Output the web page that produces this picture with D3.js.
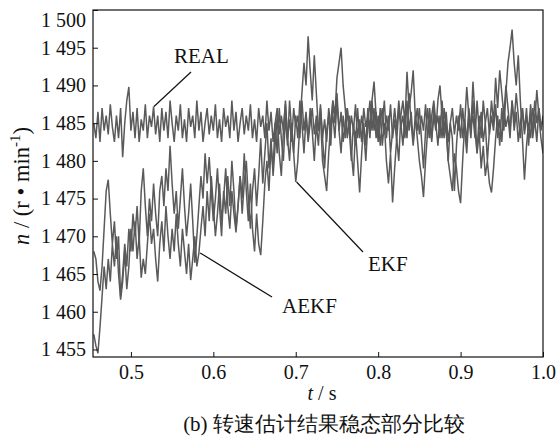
<!DOCTYPE html>
<html>
<head>
<meta charset="utf-8">
<script src="https://cdn.jsdelivr.net/npm/d3@7"></script>
<style>
  body { margin: 0; background: #fff; }
  svg text { font-family: "Liberation Serif", "Times New Roman", serif; fill: #111; }
</style>
</head>
<body>
<div id="chart"></div>
<script>
// sample times: simulation output every 2.5 ms starting at 0.455 s
const tStart = 0.455;
const tStep = 0.0025;

const realSpeed = [
  1485, 1483, 1486.5, 1482.5, 1487, 1484, 1486, 1483.5, 1487.5, 1484.5,
  1482.5, 1486, 1483, 1487, 1480.5, 1485, 1488, 1489.8, 1484, 1486.5,
  1483, 1487, 1482.5, 1485.5, 1484, 1487.5, 1483, 1486, 1484.5, 1487.2,
  1483.5, 1486, 1482.5, 1487, 1484, 1486.5, 1483, 1488, 1485, 1482.5,
  1486, 1484, 1487.5, 1483, 1485.5, 1482.5, 1487, 1484.5, 1486, 1483,
  1488, 1484, 1486.5, 1482.5, 1485, 1487, 1483.5, 1486, 1484, 1487.5,
  1483, 1485.5, 1482.5, 1487, 1484.5, 1486, 1483, 1488, 1484, 1486.5,
  1482.5, 1485, 1487, 1483.5, 1486, 1484, 1487.5, 1483, 1485.5, 1482.5,
  1487, 1484.5, 1486, 1483, 1488, 1484, 1486.5, 1482.5, 1485, 1487,
  1483.5, 1486, 1484, 1487.5, 1483, 1485.5, 1482.5, 1487, 1484.5, 1486,
  1483, 1488, 1484, 1486.5, 1482.5, 1485, 1487, 1483.5, 1486, 1484,
  1487.5, 1483, 1485.5, 1482.5, 1487, 1484.5, 1486, 1483, 1488, 1484,
  1486.5, 1482.5, 1485, 1487, 1483.5, 1486, 1484, 1487.5, 1483, 1485.5,
  1482.5, 1487, 1484.5, 1486, 1483, 1488, 1484, 1486.5, 1482.5, 1485,
  1487, 1483.5, 1486, 1484, 1487.5, 1483, 1485.5, 1482.5, 1487, 1484.5,
  1486, 1483, 1488, 1484, 1486.5, 1482.5, 1485, 1487, 1483.5, 1486,
  1484, 1487.5, 1483, 1485.5, 1482.5, 1487, 1484.5, 1486, 1483, 1488,
  1484, 1486.5, 1482.5, 1485, 1487, 1483.5, 1486, 1484, 1487.5, 1483,
  1485.5, 1482.5, 1487, 1484.5, 1486, 1483, 1488, 1484, 1486.5, 1482.5,
  1485, 1487, 1483.5, 1486, 1484, 1487.5, 1483, 1485.5, 1482.5, 1487,
  1484.5, 1486, 1483, 1488, 1484, 1486.5, 1482.5, 1485, 1487, 1483.5,
  1486, 1484, 1487.5, 1483, 1485.5, 1482.5, 1487, 1484.5, 1485.5
];

const ekfSpeed = [
  1468, 1467, 1464, 1462.8, 1466, 1471, 1476, 1477.5, 1473, 1469,
  1472, 1467, 1470, 1462, 1465, 1469, 1466, 1471, 1468, 1473,
  1470, 1474, 1469, 1476, 1479, 1474, 1470, 1475, 1472, 1477,
  1473, 1470, 1476, 1478, 1474, 1479, 1476, 1482, 1477, 1473,
  1476, 1471, 1475, 1479, 1474, 1470, 1473, 1477, 1472, 1466.5,
  1470, 1474, 1478, 1475, 1481, 1477, 1480.5, 1476, 1472, 1475,
  1479, 1474, 1470, 1476, 1473, 1478, 1474, 1480, 1476, 1471,
  1474, 1478, 1473, 1477, 1480, 1475, 1471, 1476, 1479, 1474,
  1478, 1483, 1477, 1481, 1485, 1479, 1483, 1478, 1482, 1486,
  1481, 1478, 1484, 1488, 1483, 1480, 1485, 1481, 1477.2, 1480,
  1485, 1489, 1493, 1490, 1496.5, 1492, 1488, 1494, 1489, 1484,
  1486, 1480, 1478, 1476, 1481, 1485, 1488, 1486, 1491, 1493,
  1495, 1490, 1487, 1483, 1486, 1481, 1478, 1484, 1480, 1475.8,
  1481, 1485, 1482, 1487, 1484, 1488, 1490.5, 1486, 1483, 1487,
  1482, 1485, 1480, 1477, 1481, 1474.5, 1479, 1483, 1480, 1486,
  1488, 1485, 1491.8, 1487, 1489, 1492, 1486, 1483, 1480, 1478,
  1475.2, 1480, 1484, 1487, 1483, 1486, 1484, 1488, 1490, 1486,
  1483, 1485, 1480, 1478, 1476, 1481, 1479, 1476, 1474.4, 1480,
  1485, 1489.8, 1486, 1484, 1490.5, 1486, 1481, 1484, 1479, 1482,
  1478, 1480, 1477, 1475.8, 1479, 1483, 1486, 1482, 1487, 1484,
  1489, 1493, 1495, 1497.4, 1493, 1490, 1494, 1488, 1483, 1477.5,
  1482, 1485, 1483, 1487, 1485, 1489.4, 1486, 1483, 1481
];

const aekfSpeed = [
  1457, 1455.5, 1454.5, 1458, 1462, 1466, 1463, 1467, 1464, 1469,
  1466, 1470, 1465, 1461.6, 1464, 1468, 1463, 1466, 1471, 1468,
  1472, 1467, 1470, 1464.5, 1467, 1465, 1469, 1473, 1469, 1471,
  1467, 1464, 1469, 1472, 1468, 1474, 1470, 1467, 1471, 1468,
  1473, 1469, 1466, 1471, 1468, 1465, 1469, 1464.2, 1467, 1470,
  1466, 1467.8, 1471, 1474, 1470, 1476, 1472, 1478, 1474, 1470,
  1473, 1477, 1472, 1475, 1479, 1474, 1471, 1476, 1473, 1470.5,
  1474, 1478, 1475, 1481, 1476, 1472, 1477, 1471, 1468, 1473,
  1469, 1467.5, 1472, 1477, 1480, 1476, 1482, 1479, 1485, 1481,
  1487, 1483, 1480, 1486, 1482, 1488, 1484, 1481, 1486, 1483,
  1488, 1485, 1481, 1486, 1483, 1487, 1484, 1480, 1485, 1482,
  1487, 1483, 1479, 1484, 1486, 1482, 1488, 1485, 1489, 1484,
  1481, 1486, 1483, 1487, 1484, 1480, 1485, 1482, 1487, 1483,
  1486, 1484, 1480, 1485, 1488, 1484, 1487, 1483, 1486, 1482,
  1485, 1488, 1483, 1486, 1481, 1484, 1487, 1484, 1488, 1485,
  1482, 1486, 1483, 1489, 1485, 1482, 1486, 1484, 1487, 1483,
  1479, 1484, 1487, 1483, 1486, 1488, 1485, 1482, 1486, 1483,
  1487, 1484, 1480, 1485, 1483, 1476, 1482, 1486, 1483, 1487,
  1484, 1481, 1486, 1483, 1488, 1484, 1481, 1486, 1483, 1488,
  1485, 1480, 1484, 1488, 1485, 1491, 1487, 1492, 1489, 1486,
  1490, 1487, 1484, 1488, 1485, 1489, 1486, 1483, 1487, 1484,
  1487, 1482, 1486, 1484, 1488, 1485, 1487, 1484, 1486
];

const xTicks = [0.5, 0.6, 0.7, 0.8, 0.9, 1.0];
const yTicks = [1455, 1460, 1465, 1470, 1475, 1480, 1485, 1490, 1495, 1500];

// label text + the point on the curve its leader line starts from
const callouts = [
  {label: 'REAL', t: 0.528, v: 1487.2},
  {label: 'EKF', t: 0.701, v: 1477.2},
  {label: 'AEKF', t: 0.584, v: 1467.8}
];

class SpeedChart {
  constructor(_config) {
    this.config = {
      parentElement: _config.parentElement,
      containerWidth: _config.containerWidth || 559,
      containerHeight: _config.containerHeight || 441,
      margin: _config.margin || {top: 10, right: 16, bottom: 84, left: 93}
    };
    this.initVis();
  }

  initVis() {
    let vis = this;
    const m = vis.config.margin;
    vis.width = vis.config.containerWidth - m.left - m.right;
    vis.height = vis.config.containerHeight - m.top - m.bottom;

    vis.svg = d3.select(vis.config.parentElement).append('svg')
        .attr('width', vis.config.containerWidth)
        .attr('height', vis.config.containerHeight);

    vis.chart = vis.svg.append('g')
        .attr('transform', `translate(${m.left},${m.top})`);

    vis.xScale = d3.scaleLinear().domain([0.454, 1.0]).range([0, vis.width]);
    vis.yScale = d3.scaleLinear().domain([1454, 1500]).range([vis.height, 0]);

    vis.svg.append('defs').append('clipPath').attr('id', 'plot-clip')
      .append('rect').attr('width', vis.width).attr('height', vis.height);

    vis.toSeries = values => values.map((v, i) => ({t: tStart + i * tStep, v: v}));
  }

  renderVis() {
    let vis = this;

    const line = d3.line()
        .x(d => vis.xScale(d.t))
        .y(d => vis.yScale(d.v));

    const traces = vis.chart.append('g').attr('clip-path', 'url(#plot-clip)');
    [realSpeed, ekfSpeed, aekfSpeed].forEach(values => {
      traces.append('path')
          .datum(vis.toSeries(values))
          .attr('fill', 'none')
          .attr('stroke', '#5a5a5a')
          .attr('stroke-width', 1.5)
          .attr('d', line);
    });

    // axes: ticks point inward, no domain path (frame drawn separately)
    const xAxis = d3.axisBottom(vis.xScale).tickValues(xTicks)
        .tickSizeInner(-5).tickSizeOuter(0).tickPadding(8)
        .tickFormat(d3.format('.1f'));
    const yAxis = d3.axisLeft(vis.yScale).tickValues(yTicks)
        .tickSizeInner(-5).tickSizeOuter(0).tickPadding(7)
        .tickFormat(d => `${Math.floor(d / 1000)} ${d % 1000}`);

    const gx = vis.chart.append('g')
        .attr('transform', `translate(0,${vis.height})`)
        .call(xAxis);
    const gy = vis.chart.append('g').call(yAxis);

    [gx, gy].forEach(g => {
      g.select('.domain').remove();
      g.selectAll('line').attr('stroke', '#111');
      g.selectAll('text').attr('font-size', 20).attr('fill', '#111');
    });
    // the top label sits a little lower than its tick
    gy.selectAll('.tick text').filter(d => d === 1500).attr('dy', '0.82em');

    vis.chart.append('rect')
        .attr('width', vis.width).attr('height', vis.height)
        .attr('fill', 'none').attr('stroke', '#111').attr('stroke-width', 1.2);

    // callouts
    const labelPos = {REAL: [174, 63], EKF: [368, 271], AEKF: [282, 313]};
    const lineEnd = {REAL: [191, 72], EKF: [363, 252], AEKF: [272, 297]};
    callouts.forEach(c => {
      const m = vis.config.margin;
      vis.svg.append('line')
          .attr('x1', m.left + vis.xScale(c.t)).attr('y1', m.top + vis.yScale(c.v))
          .attr('x2', lineEnd[c.label][0]).attr('y2', lineEnd[c.label][1])
          .attr('stroke', '#111').attr('stroke-width', 1.2);
      vis.svg.append('text')
          .attr('x', labelPos[c.label][0]).attr('y', labelPos[c.label][1])
          .attr('font-size', 21)
          .text(c.label);
    });

    // axis titles
    const xt = vis.svg.append('text')
        .attr('x', 322).attr('y', 400)
        .attr('text-anchor', 'middle').attr('font-size', 20);
    xt.append('tspan').attr('font-style', 'italic').text('t');
    xt.append('tspan').text(' / s');

    const yt = vis.svg.append('text')
        .attr('text-anchor', 'middle').attr('font-size', 18);
    yt.append('tspan').attr('font-style', 'italic').text('n');
    yt.append('tspan').text(' / (r • min');
    yt.append('tspan').attr('font-size', 12).attr('dy', -7).text('-1');
    yt.append('tspan').attr('dy', 7).text(')');
    // squeeze the title to the span it takes in the figure (about 118 px)
    const titleLen = yt.node().getComputedTextLength();
    const k = Math.min(1.25, 118 / titleLen);
    yt.attr('transform', `translate(29,186) rotate(-90) scale(${k})`);

    vis.svg.append('text')
        .attr('x', 324).attr('y', 431)
        .attr('text-anchor', 'middle').attr('font-size', 21)
        .text('(b) 转速估计结果稳态部分比较');
  }
}

const chart = new SpeedChart({parentElement: '#chart'});
chart.renderVis();
</script>
</body>
</html>
